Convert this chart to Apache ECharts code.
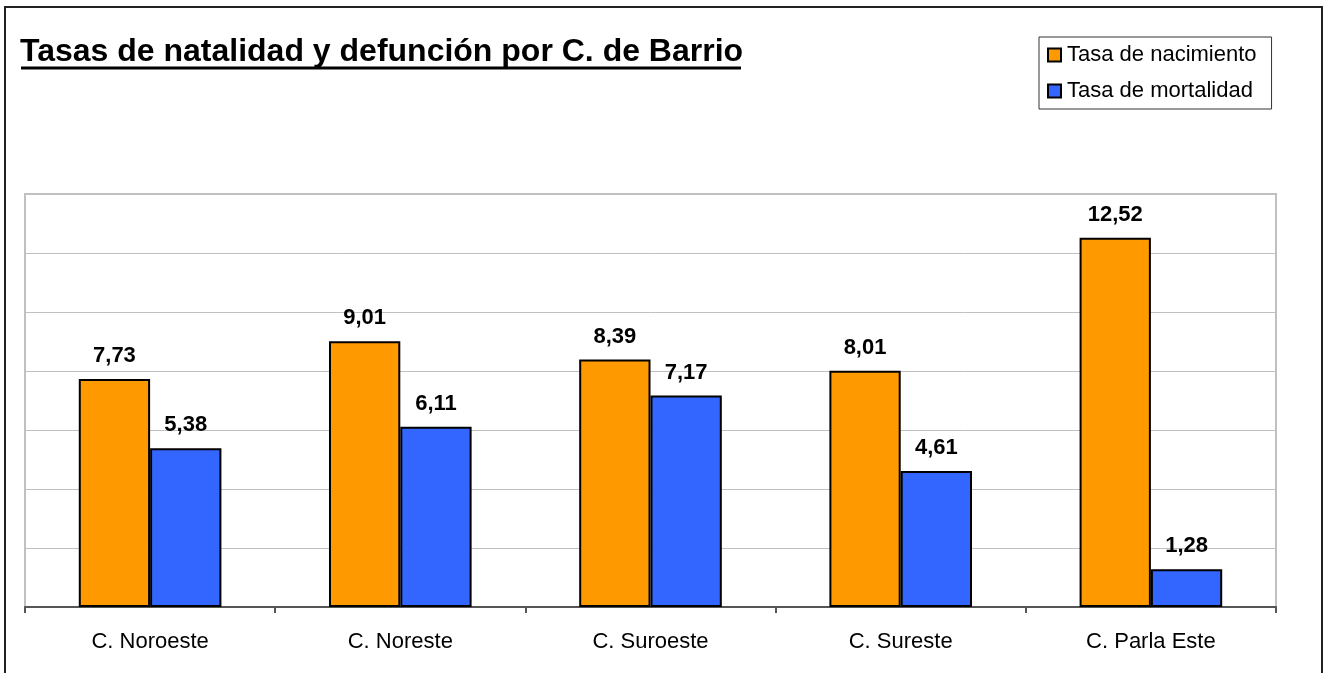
<!DOCTYPE html>
<html>
<head>
<meta charset="utf-8">
<script src="https://cdn.jsdelivr.net/npm/echarts@6/dist/echarts.min.js"></script>
<style>
    html, body { margin: 0; padding: 0; background: #fff; }
    #chart { width: 1327px; height: 673px; }
</style>
</head>
<body>
<div id="chart"></div>
<script>
    // barrios
    const categories = ['C. Noroeste', 'C. Noreste', 'C. Suroeste', 'C. Sureste', 'C. Parla Este']
    // tasa de nacimiento
    const natalidad = [7.73, 9.01, 8.39, 8.01, 12.52]
    // tasa de mortalidad
    const mortalidad = [5.38, 6.11, 7.17, 4.61, 1.28]
    const seriesNames = ['Tasa de nacimiento', 'Tasa de mortalidad']

    const font = '"Liberation Sans", Arial, sans-serif'
    const chart = echarts.init(document.getElementById('chart'))

    // etiqueta con coma decimal
    const label = {
        show: true,
        position: 'top',
        distance: 12,
        fontFamily: font,
        fontSize: 22,
        fontWeight: 'bold',
        color: '#000',
        formatter: p => p.value.toFixed(2).replace('.', ',')
    }

    chart.setOption({
        animation: false,
        title: {
            text: 'Tasas de natalidad y defunción por C. de Barrio',
            left: 20,
            top: 36,
            padding: 0,
            textStyle: {
                fontFamily: font,
                fontSize: 32,
                fontWeight: 'bold',
                color: '#000'
            }
        },
        legend: {
            orient: 'vertical',
            left: 1039,
            top: 37,
            padding: [7, 15, 7, 8],
            itemGap: 14,
            itemWidth: 13,
            itemHeight: 13,
            borderColor: '#333',
            borderWidth: 1,
            icon: 'rect',
            textStyle: { fontFamily: font, fontSize: 22, color: '#000', padding: [0, 0, 0, 1] },
            data: seriesNames
        },
        grid: {
            left: 25,
            right: 51,
            top: 194,
            bottom: 66,
            show: true,
            borderColor: '#c0c0c0',
            borderWidth: 2,
            containLabel: false
        },
        xAxis: {
            type: 'category',
            data: categories,
            axisLine: { lineStyle: { color: '#555', width: 2 } },
            axisTick: { show: true, length: 6, lineStyle: { color: '#555', width: 2 } },
            axisLabel: { margin: 24, fontFamily: font, fontSize: 22, color: '#000' }
        },
        yAxis: {
            type: 'value',
            min: 0,
            max: 14,
            interval: 2,
            axisLabel: { show: false },
            axisLine: { show: false },
            axisTick: { show: false },
            splitLine: { lineStyle: { color: '#c0c0c0', width: 1 } }
        },
        graphic: [
            {
                type: 'rect',
                shape: { x: 5, y: 7, width: 1317, height: 700 },
                style: { fill: 'none', stroke: '#222', lineWidth: 2 },
                silent: true
            },
            {
                type: 'line',
                shape: { x1: 21, y1: 68, x2: 741, y2: 68 },
                style: { stroke: '#000', lineWidth: 3 },
                silent: true
            }
        ],
        series: [
            {
                name: seriesNames[0],
                type: 'bar',
                data: natalidad,
                barGap: '0%',
                barCategoryGap: '43%',
                itemStyle: { color: '#FF9900', borderColor: '#000', borderWidth: 2 },
                label: label
            },
            {
                name: seriesNames[1],
                type: 'bar',
                data: mortalidad,
                itemStyle: { color: '#3366FF', borderColor: '#000', borderWidth: 2 },
                label: label
            }
        ]
    })
</script>
</body>
</html>
